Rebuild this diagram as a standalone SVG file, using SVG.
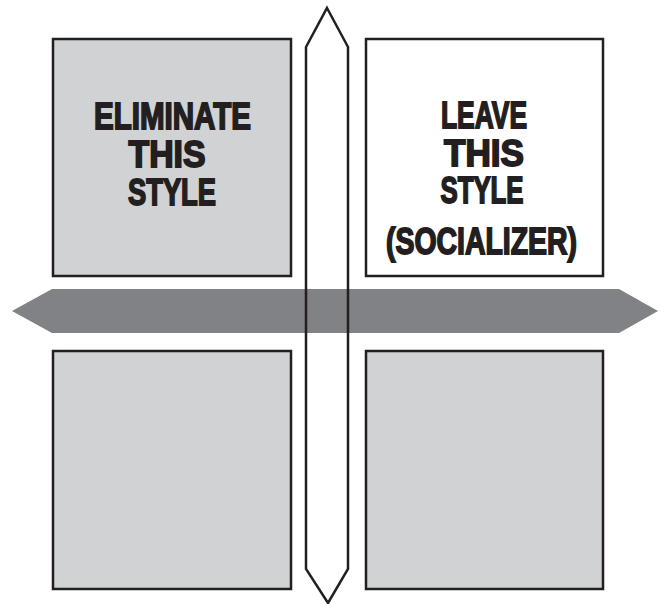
<svg xmlns="http://www.w3.org/2000/svg" width="665" height="604" viewBox="0 0 665 604">
<style>
.box{fill:#d1d2d4;stroke:#231f20;stroke-width:2.5}
.wbox{fill:#ffffff;stroke:#231f20;stroke-width:2.5}
.lbl{font-family:"Liberation Sans",Arial,sans-serif;font-weight:bold;font-size:37px;fill:#231f20;stroke:#231f20;stroke-width:1.8;stroke-linejoin:miter;text-anchor:middle}
</style>
<rect width="665" height="604" fill="#ffffff"/>
<g id="box-tl"><rect class="box" x="53" y="39" width="238" height="237"/>
<text class="lbl" x="172.5" y="129" textLength="157" lengthAdjust="spacingAndGlyphs">ELIMINATE</text>
<text class="lbl" x="167" y="167" textLength="77" lengthAdjust="spacingAndGlyphs">THIS</text>
<text class="lbl" x="172" y="205" textLength="88" lengthAdjust="spacingAndGlyphs">STYLE</text>
</g>
<g id="box-tr"><rect class="wbox" x="366" y="39" width="237" height="237"/>
<text class="lbl" x="484" y="128" textLength="86" lengthAdjust="spacingAndGlyphs">LEAVE</text>
<text class="lbl" x="484" y="166" textLength="80" lengthAdjust="spacingAndGlyphs">THIS</text>
<text class="lbl" x="482" y="203" textLength="83" lengthAdjust="spacingAndGlyphs">STYLE</text>
<text class="lbl" x="481.5" y="254" textLength="191" lengthAdjust="spacingAndGlyphs">(SOCIALIZER)</text>
</g>
<g id="box-bl"><rect class="box" x="53" y="351" width="238" height="238"/></g>
<g id="box-br"><rect class="box" x="366" y="351" width="237" height="238"/></g>
<g id="connectors">
<polygon id="v-fill" points="327,8 348,47 348,569 328,603 306,569 306,47" fill="#ffffff"/>
<polygon id="h-band" points="12,311 52,289 619,289 658,311 619,333 52,333" fill="#808285"/>
<polygon id="v-outline" points="327,8 348,47 348,569 328,603 306,569 306,47" fill="none" stroke="#231f20" stroke-width="2.5" stroke-linejoin="miter"/>
</g>
</svg>
